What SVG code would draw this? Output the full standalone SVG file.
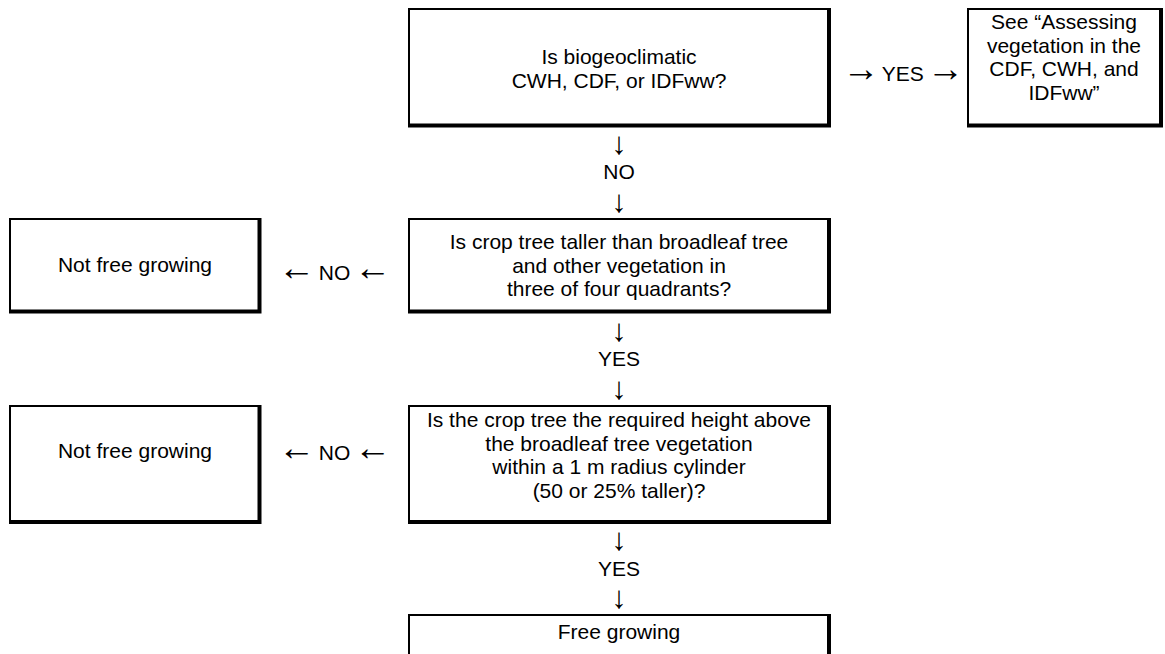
<svg xmlns="http://www.w3.org/2000/svg" width="1165" height="654" viewBox="0 0 1165 654">
<style>
.t{font-family:"Liberation Sans",Arial,sans-serif;font-size:21px;fill:#000;text-anchor:middle}
.ar{font-size:37px}
.va{font-family:"Liberation Sans",Arial,sans-serif;font-size:31px;fill:#000;text-anchor:middle}
.box{fill:#fff;stroke:#000;stroke-width:2}
.sh{fill:none;stroke:#000;stroke-width:4;stroke-linejoin:miter}
</style>
<rect width="1165" height="654" fill="#fff"/>
<g id="q1">
<rect class="box" x="409" y="9" width="420" height="116.5"/>
<path class="sh" d="M408,125.5 H829 V8"/>
<text class="t" x="619" y="64">Is biogeoclimatic</text>
<text class="t" x="619" y="87.6">CWH, CDF, or IDFww?</text>
</g>
<g id="see">
<rect class="box" x="968" y="9" width="193" height="116.5"/>
<path class="sh" d="M967,125.5 H1161 V8"/>
<text class="t" x="1064" y="29">See “Assessing</text>
<text class="t" x="1064" y="52.6">vegetation in the</text>
<text class="t" x="1064" y="76.2">CDF, CWH, and</text>
<text class="t" x="1064" y="99.8">IDFww”</text>
</g>
<g id="q2">
<rect class="box" x="409" y="219" width="420" height="92.5"/>
<path class="sh" d="M408,311.5 H829 V218"/>
<text class="t" x="619" y="249">Is crop tree taller than broadleaf tree</text>
<text class="t" x="619" y="272.6">and other vegetation in</text>
<text class="t" x="619" y="296.2">three of four quadrants?</text>
</g>
<g id="nfg1">
<rect class="box" x="10" y="219" width="249.5" height="92.5"/>
<path class="sh" d="M9,311.5 H259.5 V218"/>
<text class="t" x="135" y="272">Not free growing</text>
</g>
<g id="q3">
<rect class="box" x="409" y="406" width="420" height="116"/>
<path class="sh" d="M408,522 H829 V405"/>
<text class="t" x="619" y="427">Is the crop tree the required height above</text>
<text class="t" x="619" y="450.6">the broadleaf tree vegetation</text>
<text class="t" x="619" y="474.2">within a 1 m radius cylinder</text>
<text class="t" x="619" y="497.8">(50 or 25% taller)?</text>
</g>
<g id="nfg2">
<rect class="box" x="10" y="406" width="249.5" height="116"/>
<path class="sh" d="M9,522 H259.5 V405"/>
<text class="t" x="135" y="458">Not free growing</text>
</g>
<g id="fg">
<rect class="box" x="409" y="615" width="420" height="60"/>
<path class="sh" d="M829,660 V614"/>
<text class="t" x="619" y="639">Free growing</text>
</g>
<g id="connectors">
<text class="t" x="903" y="81" word-spacing="-3"><tspan class="ar">→</tspan> YES <tspan class="ar">→</tspan></text>
<text class="va" x="619" y="153.6">↓</text>
<text class="t" x="619" y="179.1">NO</text>
<text class="va" x="619" y="211.7">↓</text>
<text class="t" x="334.5" y="280" word-spacing="-2"><tspan class="ar">←</tspan> NO <tspan class="ar">←</tspan></text>
<text class="va" x="619" y="340.5">↓</text>
<text class="t" x="619" y="366">YES</text>
<text class="va" x="619" y="398.6">↓</text>
<text class="t" x="334.5" y="460" word-spacing="-2"><tspan class="ar">←</tspan> NO <tspan class="ar">←</tspan></text>
<text class="va" x="619" y="550.2">↓</text>
<text class="t" x="619" y="575.7">YES</text>
<text class="va" x="619" y="608.3">↓</text>
</g>
</svg>
